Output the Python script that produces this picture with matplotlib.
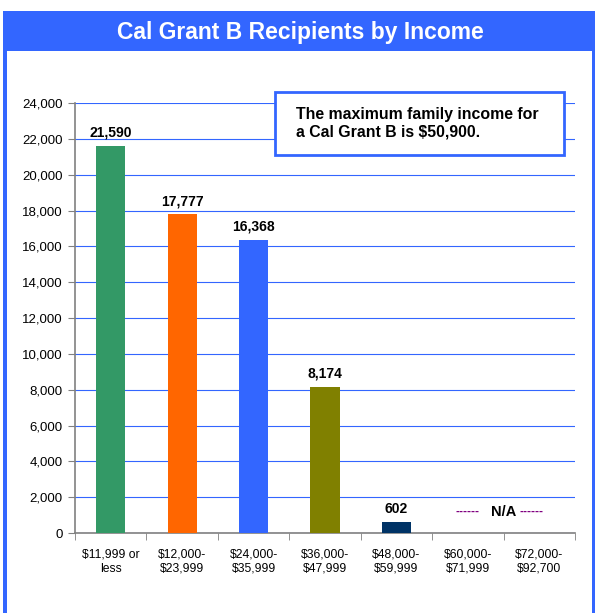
import matplotlib.pyplot as plt
from matplotlib.patches import Rectangle

plt.rcParams['font.family'] = ['Liberation Sans', 'DejaVu Sans']

categories = ["$11,999 or\nless", "$12,000-\n$23,999", "$24,000-\n$35,999",
              "$36,000-\n$47,999", "$48,000-\n$59,999", "$60,000-\n$71,999",
              "$72,000-\n$92,700"]
recipients = [21590, 17777, 16368, 8174, 602]
bar_colors = ["#339966", "#FF6600", "#3366FF", "#808000", "#003366"]
y_ticks = list(range(0, 24001, 2000))

W, H = 597, 613
fig = plt.figure(figsize=(W / 100, H / 100), dpi=100)

# blue frame with title band
blue = "#3366FF"
fig.patches.append(Rectangle((3 / W, 0), 592 / W, 1 - 11 / H, transform=fig.transFigure,
                             facecolor=blue, edgecolor="none", zorder=-2))
fig.patches.append(Rectangle((7 / W, 0), 585 / W, 1 - 51 / H, transform=fig.transFigure,
                             facecolor="white", edgecolor="none", zorder=-1))
fig.text(300 / W, 1 - 32 / H, "Cal Grant B Recipients by Income", color="white",
         fontsize=16.5, fontweight="bold", ha="center", va="center")

ax = fig.add_axes([75 / W, 80 / H, 500 / W, 430 / H])
ax.set_zorder(1)
ax.set_facecolor("none")
x = list(range(len(recipients)))
ax.bar(x, recipients, width=0.41, color=bar_colors, zorder=3)
for xi, v in zip(x, recipients):
    ax.text(xi, v + 350, f"{v:,}", ha="center", va="bottom", fontsize=10,
            fontweight="bold", zorder=4)

ax.set_xlim(-0.5, len(categories) - 0.5)
ax.set_ylim(0, 24000)
ax.set_yticks(y_ticks)
ax.set_yticklabels([f"{t:,}" for t in y_ticks], fontsize=9.5)
ax.yaxis.grid(True, color="#3366FF", linewidth=0.8, zorder=1)
ax.set_xticks(range(len(categories)))
ax.set_xticklabels(categories, fontsize=8.7, linespacing=1.25)
ax.tick_params(axis="x", length=0, pad=11)
ax.set_xticks([i + 0.5 for i in range(-1, len(categories))], minor=True)
ax.tick_params(axis="x", which="minor", length=5, color="#808080")
ax.tick_params(axis="y", length=5, color="#808080", pad=4)
for side in ["top", "right"]:
    ax.spines[side].set_visible(False)
for side in ["left", "bottom"]:
    ax.spines[side].set_color("#808080")
    ax.spines[side].set_linewidth(1.2)

# N/A note for the last two ranges
ax.text(5.16, 1170, "------", color="#800080", fontsize=8.5, fontweight="bold",
        ha="right", va="center")
ax.text(5.505, 1170, "N/A", color="black", fontsize=10.5, fontweight="bold",
        ha="center", va="center")
ax.text(5.72, 1170, "------", color="#800080", fontsize=8.5, fontweight="bold",
        ha="left", va="center")

# note box
fig.patches.append(Rectangle((275 / W, 1 - 155 / H), 289 / W, 63 / H, transform=fig.transFigure,
                             facecolor="white", edgecolor=blue, linewidth=2, zorder=5))
fig.text(296 / W, 1 - 123 / H, "The maximum family income for\na Cal Grant B is $50,900.",
         fontsize=11.4, fontweight="bold", ha="left", va="center", linespacing=1.2, zorder=6)

fig.savefig("out.png", dpi=100)
